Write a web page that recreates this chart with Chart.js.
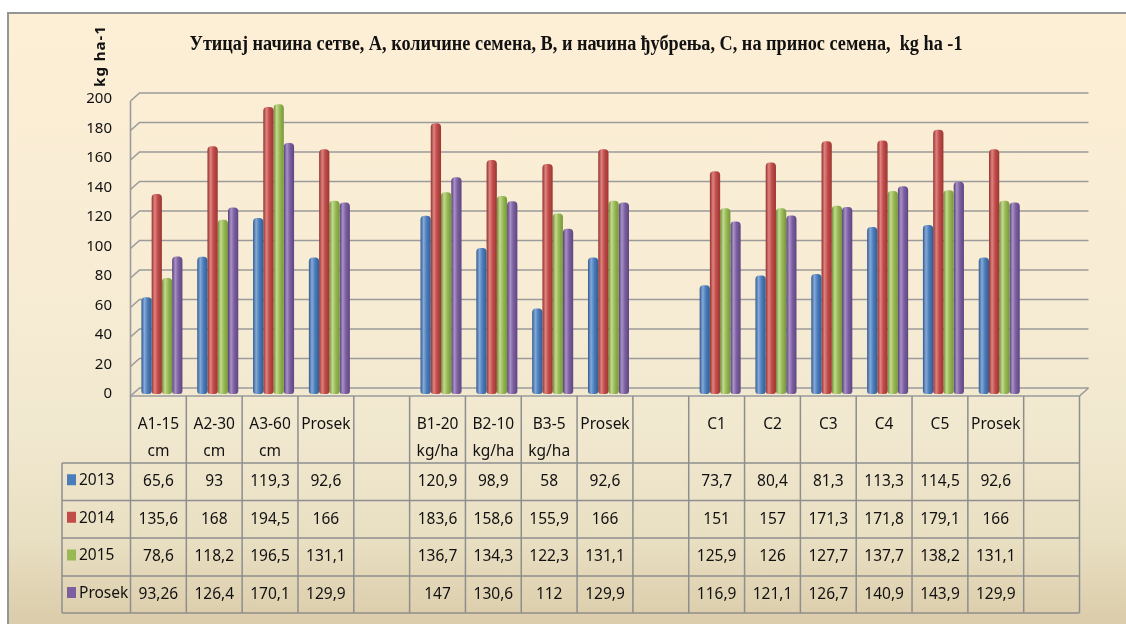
<!DOCTYPE html>
<html lang="sr">
<head>
  <meta charset="UTF-8">
  <title>Принос семена</title>
  <script src="https://cdn.jsdelivr.net/npm/chart.js"></script>
  <style>
    html, body { margin: 0; padding: 0; overflow: hidden; background: #fff; }
    #frame {
      position: absolute; left: 7px; top: 12px; width: 1140px; height: 640px;
      border-left: 2px solid #959595; border-top: 2px solid #959595;
      background: linear-gradient(to bottom, #fdefd6 0%, #f8ecd4 40%, #f1e8d0 65%, #e9dfc2 82%, #d6c6a2 100%);
    }
    #wrap { position: absolute; left: 0; top: 0; width: 1126px; height: 624px; }
  </style>
</head>
<body>
  <div id="frame"></div>
  <div id="wrap"><canvas id="chart" width="1126" height="624"></canvas></div>

  <script>
    // categories (empty ones are the gaps between groups)
    const categories = [
      ['A1-15', 'cm'], ['A2-30', 'cm'], ['A3-60', 'cm'], ['Prosek'], [''],
      ['B1-20', 'kg/ha'], ['B2-10', 'kg/ha'], ['B3-5', 'kg/ha'], ['Prosek'], [''],
      ['C1'], ['C2'], ['C3'], ['C4'], ['C5'], ['Prosek'], ['']
    ];
    const seriesNames = ['2013', '2014', '2015', 'Prosek'];
    const y2013   = [65.6, 93, 119.3, 92.6, null, 120.9, 98.9, 58, 92.6, null, 73.7, 80.4, 81.3, 113.3, 114.5, 92.6, null];
    const y2014   = [135.6, 168, 194.5, 166, null, 183.6, 158.6, 155.9, 166, null, 151, 157, 171.3, 171.8, 179.1, 166, null];
    const y2015   = [78.6, 118.2, 196.5, 131.1, null, 136.7, 134.3, 122.3, 131.1, null, 125.9, 126, 127.7, 137.7, 138.2, 131.1, null];
    const yProsek = [93.26, 126.4, 170.1, 129.9, null, 147, 130.6, 112, 129.9, null, 116.9, 121.1, 126.7, 140.9, 143.9, 129.9, null];
    const yMin = 0, yMax = 200, yStep = 20;

    const titleText = 'Утицај начина сетве, А, количине семена, В, и начина ђубрења, С, на принос семена,  kg ha -1';
    const yTitle = 'kg ha-1';

    // dark edge, highlight, mid, dark
    const palette = [
      ['#2f5a90', '#86a9d8', '#4a7dbb', '#345c92'],
      ['#93302d', '#de8380', '#c04b48', '#9a3734'],
      ['#6f8d33', '#c2da8f', '#98b955', '#769639'],
      ['#553d78', '#a892c7', '#7c5f9f', '#5e4583']
    ];
    const CAT_PCT = 0.735;
    const TABLE_SHIFT = -3.5;   // table sits on the front face, bars a bit deeper
    const FONT = '"Noto Sans", sans-serif';

    function barFill(si) {
      return function (c) {
        const col = palette[si];
        if (c.type !== 'data') return col[2];
        const chart = c.chart;
        const xs = chart.scales.x;
        if (!xs || !chart.chartArea) return col[2];
        const catW = xs.width / categories.length;
        const groupW = catW * CAT_PCT;
        const bw = groupW / seriesNames.length;
        const x0 = xs.getPixelForValue(c.dataIndex) - groupW / 2 + c.datasetIndex * bw;
        const g = chart.ctx.createLinearGradient(x0, 0, x0 + bw, 0);
        g.addColorStop(0, col[0]);
        g.addColorStop(0.3, col[1]);
        g.addColorStop(0.6, col[2]);
        g.addColorStop(1, col[3]);
        return g;
      };
    }

    function fmt(v) {
      return v == null ? '' : String(v).replace('.', ',');
    }

    // 3D-ish walls, floor and grid lines
    const wallPlugin = {
      id: 'walls',
      beforeDatasetsDraw(chart) {
        const { ctx, chartArea: a, scales: { y } } = chart;
        const L = a.left + TABLE_SHIFT, R = a.right + TABLE_SHIFT;
        const dx = 9, dy = 8;
        ctx.save();
        ctx.strokeStyle = '#9b9b9b';
        ctx.lineWidth = 1.6;
        y.ticks.forEach(t => {
          const py = y.getPixelForValue(t.value) + 2;
          ctx.beginPath();
          ctx.moveTo(L, py);
          ctx.lineTo(L + dx, py - dy);
          ctx.lineTo(R + dx, py - dy);
          ctx.stroke();
        });
        const top = y.getPixelForValue(yMax) + 2, bot = y.getPixelForValue(yMin) + 2;
        ctx.beginPath();
        ctx.moveTo(L, top);
        ctx.lineTo(L, bot);
        ctx.lineTo(R, bot);
        ctx.lineTo(R + dx, bot - dy);
        ctx.stroke();
        ctx.restore();
      }
    };

    // data table under the plot, titles
    const tablePlugin = {
      id: 'table',
      afterDraw(chart) {
        const { ctx, scales: { x, y } } = chart;
        const n = categories.length;
        const catW = x.width / n;
        const x0 = x.left + TABLE_SHIFT;
        const xEnd = x0 + catW * n;
        const head = y.getPixelForValue(yMin) + 2;
        const rows = [463, 500.5, 538, 576, 613];
        const legL = 62;
        const series = [y2013, y2014, y2015, yProsek];

        ctx.save();
        ctx.strokeStyle = '#8e8e8e';
        ctx.lineWidth = 1.5;
        ctx.beginPath();
        for (let i = 0; i <= n; i++) {
          const cx = x0 + catW * i;
          ctx.moveTo(cx, head);
          ctx.lineTo(cx, rows[rows.length - 1]);
        }
        rows.forEach(r => { ctx.moveTo(legL, r); ctx.lineTo(xEnd, r); });
        ctx.moveTo(legL, rows[0]);
        ctx.lineTo(legL, rows[rows.length - 1]);
        ctx.stroke();

        ctx.fillStyle = '#111';
        ctx.textAlign = 'center';
        ctx.textBaseline = 'middle';
        ctx.font = '15.5px ' + FONT;
        categories.forEach((lab, i) => {
          const cx = x0 + catW * (i + 0.5);
          lab.forEach((ln, k) => ctx.fillText(ln, cx, 425 + k * 27));
        });
        series.forEach((s, si) => {
          const mid = (rows[si] + rows[si + 1]) / 2;
          s.forEach((v, i) => ctx.fillText(fmt(v), x0 + catW * (i + 0.5), mid));
        });

        // legend keys
        ctx.textAlign = 'left';
        seriesNames.forEach((nm, si) => {
          const mid = (rows[si] + rows[si + 1]) / 2;
          ctx.fillStyle = palette[si][2];
          ctx.fillRect(67, mid - 7.5, 9, 11);
          ctx.fillStyle = '#111';
          ctx.fillText(nm, 79, mid - 1);
        });

        // y axis title
        ctx.save();
        ctx.translate(101, 56);
        ctx.rotate(-Math.PI / 2);
        ctx.font = 'bold 15px ' + FONT;
        ctx.letterSpacing = '1px';
        ctx.textAlign = 'center';
        ctx.fillText(yTitle, 0, 0);
        ctx.restore();

        // main title (condensed serif, like the original)
        ctx.save();
        ctx.font = 'bold 20px "Liberation Serif", serif';
        const w = ctx.measureText(titleText).width;
        const target = 773;
        ctx.translate(576, 45);
        ctx.scale(target / w, 1);
        ctx.textAlign = 'center';
        ctx.fillText(titleText, 0, 0);
        ctx.restore();

        ctx.restore();
      }
    };

    const datasets = [y2013, y2014, y2015, yProsek].map((d, i) => ({
      label: seriesNames[i],
      data: d,
      backgroundColor: barFill(i),
      borderWidth: 0,
      borderRadius: { topLeft: 4, topRight: 4, bottomLeft: 3, bottomRight: 3 },
      borderSkipped: false,
      categoryPercentage: CAT_PCT,
      barPercentage: 1.0
    }));

    new Chart(document.getElementById('chart'), {
      type: 'bar',
      data: { labels: categories.map(c => c.join(' ')), datasets },
      options: {
        responsive: false,
        animation: false,
        layout: { padding: { top: 99, right: 43, bottom: 230, left: 0 } },
        plugins: {
          legend: { display: false },
          title: { display: false },
          tooltip: { enabled: false }
        },
        scales: {
          x: { display: false },
          y: {
            min: yMin, max: yMax,
            afterFit(scale) { scale.width = 134; },
            grid: { display: false, drawTicks: false },
            border: { display: false },
            ticks: {
              stepSize: yStep,
              padding: 22,
              color: '#111',
              font: { family: 'Noto Sans', size: 15 }
            }
          }
        }
      },
      plugins: [wallPlugin, tablePlugin]
    });
  </script>
</body>
</html>
